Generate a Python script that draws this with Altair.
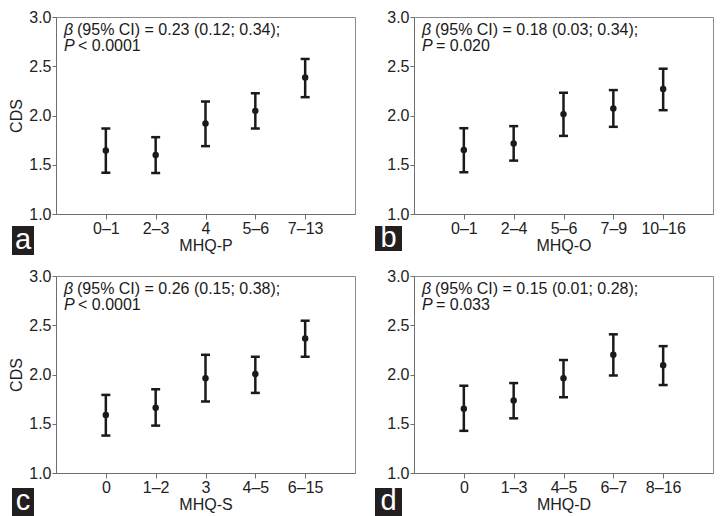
import altair as alt
import pandas as pd

FONT = "Liberation Sans"
INK = "#1a1a1a"

# ---------------- data ----------------
letters = ["a", "b", "c", "d"]
x_titles = ["MHQ-P", "MHQ-O", "MHQ-S", "MHQ-D"]

cats_a = ["0–1", "2–3", "4", "5–6", "7–13"]
mean_a = [1.645, 1.598, 1.919, 2.047, 2.385]
lo_a = [1.419, 1.416, 1.689, 1.868, 2.186]
hi_a = [1.868, 1.780, 2.142, 2.226, 2.574]

cats_b = ["0–1", "2–4", "5–6", "7–9", "10–16"]
mean_b = [1.651, 1.715, 2.014, 2.071, 2.268]
lo_b = [1.424, 1.542, 1.793, 1.885, 2.054]
hi_b = [1.871, 1.892, 2.231, 2.258, 2.475]

cats_c = ["0", "1–2", "3", "4–5", "6–15"]
mean_c = [1.588, 1.662, 1.961, 2.005, 2.365]
lo_c = [1.380, 1.481, 1.726, 1.813, 2.180]
hi_c = [1.793, 1.850, 2.200, 2.180, 2.546]

cats_d = ["0", "1–3", "4–5", "6–7", "8–16"]
mean_d = [1.652, 1.736, 1.963, 2.201, 2.094]
lo_d = [1.428, 1.555, 1.769, 1.990, 1.893]
hi_d = [1.886, 1.913, 2.147, 2.408, 2.288]

beta_lines = [
    "(95% CI) = 0.23 (0.12; 0.34);",
    "(95% CI) = 0.18 (0.03; 0.34);",
    "(95% CI) = 0.26 (0.15; 0.38);",
    "(95% CI) = 0.15 (0.01; 0.28);",
]
p_lines = ["< 0.0001", "= 0.020", "< 0.0001", "= 0.033"]

y_ticks = [1.0, 1.5, 2.0, 2.5, 3.0]

W, H = 299, 197


def panel(i, cats, means, los, his, show_ytitle, box_x, box_y):
    df = pd.DataFrame({"cat": cats, "mean": means, "lo": los, "hi": his})
    xenc = alt.X(
        "cat:N",
        scale=alt.Scale(type="point", domain=cats, padding=1),
        axis=alt.Axis(title=x_titles[i], labelAngle=0, tickSize=5,
                      labelPadding=1, titlePadding=1),
    )
    yscale = alt.Scale(domain=[1, 3], nice=False, zero=False)
    yaxis = alt.Axis(values=y_ticks, format=".1f", grid=False, tickSize=4,
                     labelPadding=1, title="CDS" if show_ytitle else None,
                     titlePadding=4)
    base = alt.Chart(df)
    rules = base.mark_rule(strokeWidth=2.5, color=INK).encode(
        x=xenc, y=alt.Y("lo:Q", scale=yscale, axis=yaxis), y2="hi:Q")
    cap_lo = base.mark_tick(thickness=2.5, size=9, color=INK, opacity=1).encode(
        x=xenc, y=alt.Y("lo:Q", scale=yscale))
    cap_hi = base.mark_tick(thickness=2.5, size=9, color=INK, opacity=1).encode(
        x=xenc, y=alt.Y("hi:Q", scale=yscale))
    pts = base.mark_circle(size=42, color=INK, opacity=1).encode(
        x=xenc, y=alt.Y("mean:Q", scale=yscale))

    one = alt.Chart(pd.DataFrame({"k": [0]}))
    txt = dict(font=FONT, fontSize=16, color=INK, align="left",
               baseline="alphabetic")
    beta = one.mark_text(fontStyle="italic", **txt).encode(
        x=alt.value(8), y=alt.value(18), text=alt.value("β"))
    l1 = one.mark_text(**txt).encode(
        x=alt.value(21), y=alt.value(18), text=alt.value(beta_lines[i]))
    pchar = one.mark_text(fontStyle="italic", **txt).encode(
        x=alt.value(8), y=alt.value(34), text=alt.value("P"))
    l2 = one.mark_text(**txt).encode(
        x=alt.value(22), y=alt.value(34), text=alt.value(p_lines[i]))

    box = one.mark_rect(color="#231f20").encode(
        x=alt.value(box_x[0]), x2=alt.value(box_x[1]),
        y=alt.value(box_y[0]), y2=alt.value(box_y[1]))
    let = one.mark_text(font=FONT, fontSize=29, color="white",
                        align="center", baseline="middle").encode(
        x=alt.value((box_x[0] + box_x[1]) / 2),
        y=alt.value((box_y[0] + box_y[1]) / 2 - 1),
        text=alt.value(letters[i]))

    return alt.layer(rules, cap_lo, cap_hi, pts, beta, l1, pchar, l2, box, let
                     ).properties(width=W, height=H)


pa = panel(0, cats_a, mean_a, lo_a, hi_a, True, (-44, -22), (209, 238))
pb = panel(1, cats_b, mean_b, lo_b, hi_b, False, (-39, -12), (209, 234))
pc = panel(2, cats_c, mean_c, lo_c, hi_c, True, (-44, -22), (212, 240))
pd_ = panel(3, cats_d, mean_d, lo_d, hi_d, False, (-39, -12), (212, 240))

chart = alt.concat(
    pa, pb, pc, pd_, columns=2, spacing={"row": 62, "column": 59},
    bounds="flush",
).properties(
    padding={"left": 0, "top": 0, "right": 0, "bottom": 0}
).configure_view(
    stroke="#8a8a8a", strokeWidth=1
).configure_axis(
    labelFont=FONT, labelFontSize=16, labelColor="#222222",
    titleFont=FONT, titleFontSize=16, titleFontWeight="normal",
    titleColor="#222222", domainColor="#6e6e6e", tickColor="#6e6e6e",
    domainWidth=1, tickWidth=1,
)

chart.save("out.html", embed_options={"renderer": "svg", "actions": False})
